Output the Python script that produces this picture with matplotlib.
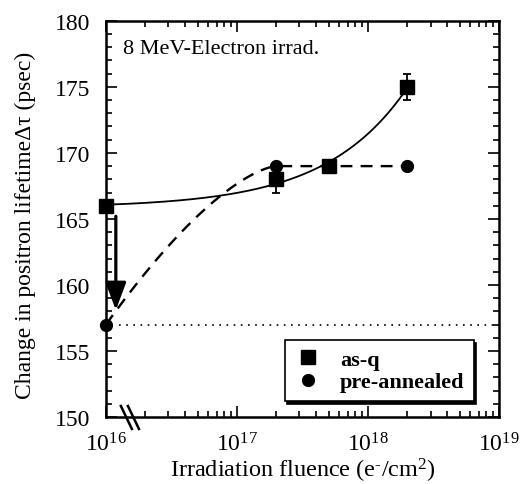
import numpy as np
import matplotlib
matplotlib.use("Agg")
import matplotlib.pyplot as plt
from matplotlib.lines import Line2D

plt.rcParams["font.family"] = "Liberation Serif"
plt.rcParams["mathtext.fontset"] = "custom"
plt.rcParams["mathtext.rm"] = "Liberation Serif"
plt.rcParams["mathtext.it"] = "Liberation Serif:italic"

## data

asq_x = [1e16, 2e17, 5e17, 2e18]
asq_y = [166, 168, 169, 175]
asq_err = [0, 1, 0, 1]

pre_x = [1e16, 2e17, 2e18]
pre_y = [157, 169, 169]

baseline = 157
arrow_x = 1.19e16
arrow_from = 165.2
arrow_to = 158.1

## guide curves derived from the points

# as-q: least squares of y = a + b * x**0.7
p = 0.7
A = np.vstack([np.ones(len(asq_x)), np.array(asq_x) ** p]).T
coef = np.linalg.lstsq(A, np.array(asq_y, float), rcond=None)[0]
fit_x = np.logspace(16, np.log10(asq_x[-1]), 300)
fit_y = coef[0] + coef[1] * fit_x ** p

# pre-annealed: saturating rise in log(x), then flat
u0, u1 = np.log10(pre_x[0]), np.log10(pre_x[1])
u = np.linspace(u0, u1, 200)
t = (u1 - u) / (u1 - u0)
rise_y = pre_y[1] - (pre_y[1] - pre_y[0]) * t ** 1.5
dash_x = np.concatenate([10 ** u, [pre_x[2]]])
dash_y = np.concatenate([rise_y, [pre_y[2]]])

## plot

fig = plt.figure(figsize=(5.27, 4.85), dpi=100)
ax = fig.add_axes([0.201, 0.138, 0.746, 0.817])

ax.plot(fit_x, fit_y, color="black", lw=1.3)
ax.plot(dash_x, dash_y, color="black", lw=1.7, ls=(0, (5, 3.5)))
ax.plot([1.25e16, 1e19], [baseline, baseline], color="black", lw=1.2, ls=(0, (1, 3.3)))

ax.errorbar(asq_x, asq_y, yerr=asq_err, fmt="s", color="black", ms=10,
            capsize=3, elinewidth=1.3, capthick=1.3, clip_on=False, zorder=5)
ax.plot(pre_x, pre_y, "o", color="black", ms=8.5, clip_on=False, zorder=5)

ax.annotate("", xy=(arrow_x, arrow_to), xytext=(arrow_x, arrow_from),
            arrowprops=dict(arrowstyle="-|>,head_width=0.45,head_length=1.2",
                            mutation_scale=14, color="black", lw=2.3,
                            shrinkA=0, shrinkB=0))

ax.set_xscale("log")
ax.set_xlim(1e16, 1e19)
ax.set_ylim(150, 180)
ax.set_yticks(np.arange(150, 181, 5))
ax.set_yticks(np.arange(150, 181, 1), minor=True)
ax.set_xticks([1e16, 1e17, 1e18, 1e19])
ax.set_xticklabels([r"$10^{16}$", r"$10^{17}$", r"$10^{18}$", r"$10^{19}$"])

ax.tick_params(which="both", direction="in", top=True, right=True, labelsize=17, width=1.2)
ax.tick_params(which="major", length=8, pad=11)
ax.tick_params(which="minor", length=4)
ax.tick_params(axis="x", which="major", pad=11)
for s in ax.spines.values():
    s.set_linewidth(1.8)

ax.set_xlabel("Irradiation fluence (e$^{\u2010}$/cm$^{2}$)", fontsize=17.5, labelpad=0)
ax.set_ylabel("Change in positron lifetime\u0394\u03c4 (psec)", fontsize=17)
ax.yaxis.set_label_coords(-0.178, 0.487)

ax.text(0.043, 0.955, "8 MeV-Electron irrad.", transform=ax.transAxes,
        fontsize=16, va="top", ha="left")

# axis break marks
for dx in (0.0, 0.018):
    ax.plot([0.038 + dx, 0.066 + dx], [0.028, -0.03], transform=ax.transAxes,
            color="black", lw=1.8, clip_on=False)

handles = [Line2D([], [], marker="s", color="black", ls="none", ms=10),
           Line2D([], [], marker="o", color="black", ls="none", ms=8.5)]
leg = ax.legend(handles, ["as-q", "pre-annealed"], loc="lower right",
                bbox_to_anchor=(0.935, 0.04), frameon=True, fancybox=False,
                shadow={"color": "black", "alpha": 1}, edgecolor="black",
                framealpha=1, prop={"weight": "bold", "size": 16},
                handletextpad=0.8, borderpad=0.4, labelspacing=0.1,
                handlelength=1.3, borderaxespad=0)
leg.get_frame().set_linewidth(1.2)

fig.savefig("out.png", dpi=100)
